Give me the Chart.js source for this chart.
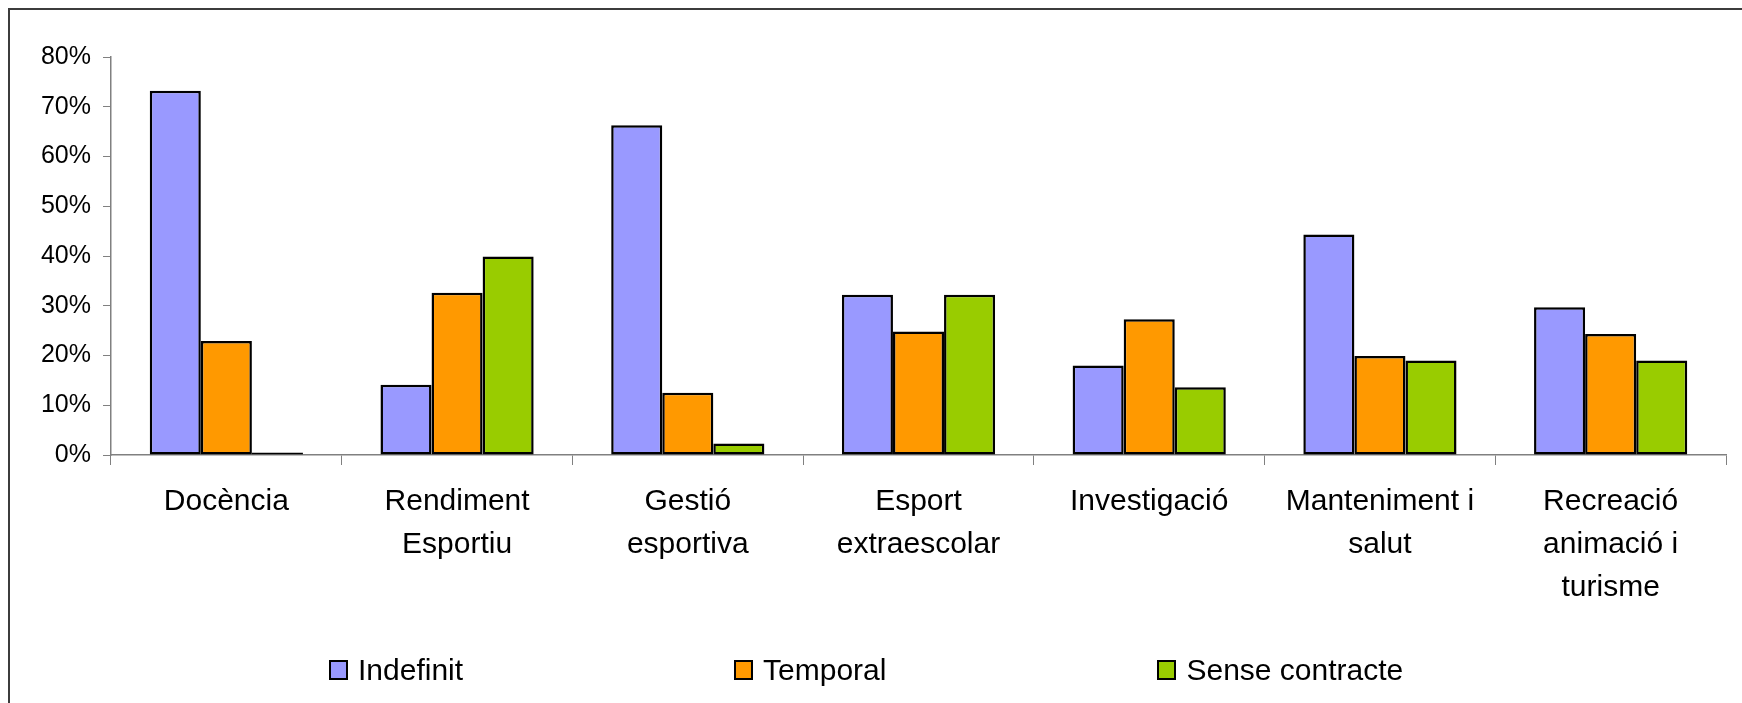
<!DOCTYPE html>
<html>
<head>
<meta charset="utf-8">
<script src="https://cdn.jsdelivr.net/npm/chart.js@4"></script>
<style>
  html, body { margin: 0; padding: 0; background: #fff; overflow: hidden; }
  #frame { position: absolute; left: 8px; top: 8px; width: 1800px; height: 800px;
           border-left: 2px solid #3c3c3c; border-top: 2px solid #3c3c3c; }
  #wrap { position: absolute; left: 0; top: 0; width: 1742px; height: 703px; }
  #legend { position: absolute; left: 329px; top: 650px; height: 40px; display: flex; align-items: center;
            font-family: "Liberation Sans", Arial, sans-serif; font-size: 30px; color: #000; }
  .item { display: flex; align-items: center; margin-right: 271px; white-space: nowrap; }
  .box { width: 15px; height: 16px; border: 2.5px solid #000; margin-right: 10px; }
</style>
</head>
<body>
<div id="frame"></div>
<div id="wrap"><canvas id="c" width="1742" height="703"></canvas></div>
<div id="legend"></div>
<script>
const categories = [
  "Docència",
  ["Rendiment", "Esportiu"],
  ["Gestió", "esportiva"],
  ["Esport", "extraescolar"],
  "Investigació",
  ["Manteniment i", "salut"],
  ["Recreació", "animació i", "turisme"]
];
const seriesNames = ["Indefinit", "Temporal", "Sense contracte"];
const indefinit      = [73.2, 14.1, 66.3, 32.2, 18.0, 44.3, 29.7];
const temporal       = [22.9, 32.6, 12.5, 24.8, 27.3, 19.9, 24.3];
const senseContracte = [0.5, 39.9, 2.3, 32.2, 13.6, 19.0, 19.0];
const yTicks = [0, 10, 20, 30, 40, 50, 60, 70, 80];
const colors = ["#9999FF", "#FF9900", "#99CC00"];

const FONT = '"Liberation Sans", Arial, sans-serif';
const seriesValues = [indefinit, temporal, senseContracte];

const datasets = seriesNames.map((name, i) => ({
  label: name,
  data: seriesValues[i],
  backgroundColor: colors[i],
  borderColor: "#000",
  borderWidth: 2.5,
  borderSkipped: false,
  categoryPercentage: 0.664,
  barPercentage: 1.0
}));

const chart = new Chart(document.getElementById("c"), {
  type: "bar",
  data: { labels: categories, datasets },
  options: {
    responsive: false,
    animation: false,
    layout: { padding: { top: 57, right: 16, bottom: 0, left: 0 } },
    plugins: { legend: { display: false }, tooltip: { enabled: false } },
    scales: {
      x: {
        grid: { display: true, drawOnChartArea: false, drawTicks: true, tickLength: 10, color: "#808080", offset: true },
        border: { display: true, color: "#808080", width: 1.5 },
        ticks: { color: "#000", font: { family: FONT, size: 30, lineHeight: 1.43 }, padding: 15, maxRotation: 0, autoSkip: false },
        afterFit: (s) => { s.height = 248; }
      },
      y: {
        min: 0, max: 80,
        afterBuildTicks: (s) => { s.ticks = yTicks.map(v => ({ value: v })); },
        grid: { display: true, drawOnChartArea: false, drawTicks: true, tickLength: 8, color: "#808080" },
        border: { display: true, color: "#808080", width: 1.5 },
        ticks: { color: "#000", font: { family: FONT, size: 25 }, padding: 12,
                 callback: (v) => v + "%" },
        afterFit: (s) => { s.width = 111; }
      }
    }
  }
});

// HTML legend built from the chart's datasets
const legendEl = document.getElementById("legend");
chart.data.datasets.forEach((ds) => {
  const item = document.createElement("div");
  item.className = "item";
  const box = document.createElement("span");
  box.className = "box";
  box.style.background = ds.backgroundColor;
  const txt = document.createElement("span");
  txt.textContent = ds.label;
  item.appendChild(box);
  item.appendChild(txt);
  legendEl.appendChild(item);
});
</script>
</body>
</html>
